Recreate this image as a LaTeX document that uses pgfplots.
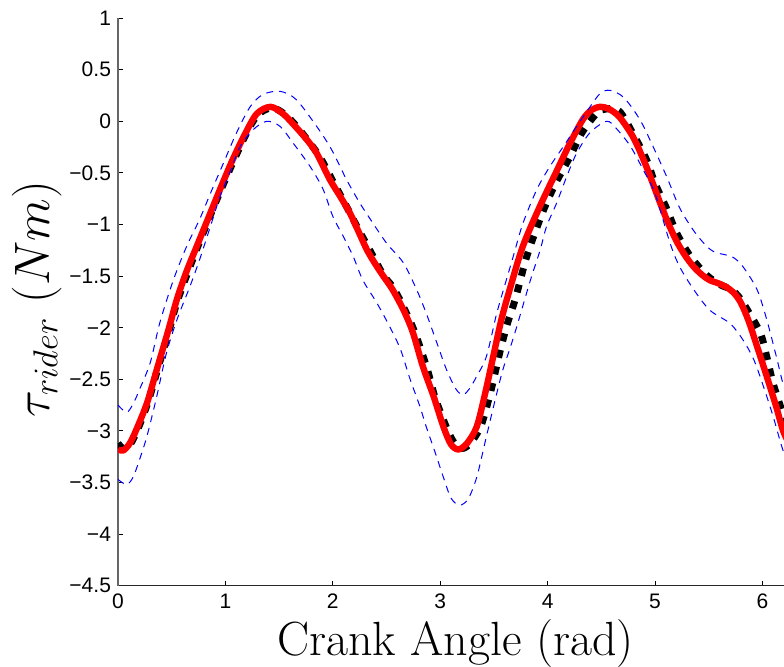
\documentclass[border=0pt]{standalone}
\usepackage{fontspec}
\usepackage{pgfplots}
\pgfplotsset{compat=1.18}
\newfontfamily\tickfont{Liberation Sans}

\begin{document}
\begin{tikzpicture}
% page = the cropped reference frame
\path[use as bounding box] (-59pt,-40.65pt) rectangle (333pt,292.85pt);
\begin{axis}[
    at={(0,0)}, anchor=south west,
    x=53.7pt, y=51.6pt,
    xmin=0, xmax=6.2832, ymin=-4.5, ymax=1,
    axis lines=left,
    axis line style={-},
    x axis line style={black!85, line width=0.6pt},
    y axis line style={black!60, line width=0.6pt},
    tick align=inside,
    major tick length=2.5pt,
    tick style={black, line width=0.5pt},
    xtick={0,1,2,3,4,5,6},
    xticklabels={0,1,2,3,4,5,6},
    ytick={-4.5,-4,-3.5,-3,-2.5,-2,-1.5,-1,-0.5,0,0.5,1},
    yticklabels={−4.5,−4,−3.5,−3,−2.5,−2,−1.5,−1,−0.5,0,0.5,1},
    ticklabel style={font=\tickfont\fontsize{10.5}{12}\selectfont},
    xticklabel style={yshift=-2.8pt, inner sep=1pt},
    xlabel={Crank Angle (rad)},
    ylabel={$\tau_{rider}$ $(Nm)$},
    every axis x label/.style={at={(axis description cs:0.5,0)}, anchor=base,
        yshift=-35pt, inner sep=0pt, font=\fontsize{24}{28}\selectfont},
    every axis y label/.style={at={(axis description cs:-0.1008,0.505)}, anchor=base,
        rotate=90, inner sep=0pt, font=\fontsize{24}{28}\selectfont},
]
% measured mean (black dashed)
\addplot[black, line width=3.5pt, dash pattern=on 4pt off 4.5pt, smooth] coordinates {
(0,-3.12)(0.05,-3.17)(0.12,-3.12)(0.19,-2.97)(0.28,-2.72)(0.37,-2.40)(0.48,-2.01)
(0.56,-1.72)(0.74,-1.22)(0.96,-0.66)(1.18,-0.15)(1.30,0.06)(1.43,0.13)(1.55,0.07)
(1.68,-0.07)(1.87,-0.33)(2.00,-0.58)(2.13,-0.83)(2.24,-1.05)(2.35,-1.26)(2.47,-1.49)
(2.54,-1.58)(2.61,-1.70)(2.73,-1.96)(2.81,-2.18)(2.89,-2.44)(2.95,-2.67)(3.04,-2.92)
(3.12,-3.10)(3.20,-3.17)(3.28,-3.12)(3.38,-2.95)(3.47,-2.62)(3.55,-2.26)(3.62,-1.98)
(3.70,-1.72)(3.80,-1.33)(3.90,-1.03)(3.99,-0.79)(4.09,-0.57)(4.21,-0.34)(4.32,-0.11)
(4.46,0.08)(4.55,0.12)(4.67,0.095)(4.80,-0.13)(4.92,-0.37)(5.00,-0.60)(5.11,-0.85)
(5.20,-1.08)(5.33,-1.31)(5.48,-1.49)(5.60,-1.58)(5.71,-1.63)(5.78,-1.70)(5.85,-1.81)
(5.98,-2.05)(6.04,-2.28)(6.10,-2.54)(6.18,-2.80)(6.283,-3.12)
};
% model (red)
\addplot[red, line width=3.2pt, line join=round, smooth] coordinates {
(0,-3.18)(0.05,-3.19)(0.11,-3.12)(0.17,-2.99)(0.27,-2.73)(0.36,-2.41)(0.47,-2.02)
(0.55,-1.72)(0.64,-1.45)(0.73,-1.22)(0.84,-0.94)(0.95,-0.66)(1.06,-0.39)(1.17,-0.15)
(1.29,0.07)(1.42,0.14)(1.54,0.07)(1.66,-0.06)(1.76,-0.18)(1.85,-0.31)(1.97,-0.56)
(2.07,-0.73)(2.16,-0.89)(2.24,-1.07)(2.32,-1.25)(2.40,-1.39)(2.47,-1.50)(2.55,-1.62)
(2.63,-1.77)(2.69,-1.90)(2.75,-2.06)(2.84,-2.38)(2.94,-2.67)(3.03,-2.96)(3.10,-3.13)
(3.17,-3.18)(3.25,-3.12)(3.34,-2.96)(3.42,-2.63)(3.50,-2.25)(3.57,-1.92)(3.65,-1.62)
(3.77,-1.21)(3.93,-0.82)(4.09,-0.47)(4.21,-0.21)(4.33,0.02)(4.41,0.11)(4.49,0.14)
(4.57,0.12)(4.67,0.04)(4.80,-0.16)(4.92,-0.44)(5.04,-0.77)(5.12,-0.98)(5.20,-1.16)
(5.28,-1.30)(5.36,-1.41)(5.44,-1.49)(5.51,-1.54)(5.59,-1.57)(5.67,-1.61)(5.74,-1.67)
(5.80,-1.76)(5.87,-1.93)(5.95,-2.18)(6.04,-2.47)(6.13,-2.77)(6.20,-3.02)(6.283,-3.18)
};
% upper band (blue dashed)
\addplot[blue, line width=0.5pt, dash pattern=on 3.5pt off 3pt, smooth] coordinates {
(0,-2.75)(0.08,-2.82)(0.14,-2.74)(0.20,-2.60)(0.30,-2.34)(0.39,-1.95)(0.515,-1.54)
(0.64,-1.21)(0.76,-0.95)(0.86,-0.70)(0.98,-0.41)(1.10,-0.12)(1.23,0.14)(1.35,0.26)
(1.51,0.29)(1.66,0.21)(1.85,-0.05)(1.97,-0.24)(2.05,-0.40)(2.13,-0.57)(2.25,-0.79)
(2.35,-0.95)(2.50,-1.18)(2.656,-1.37)(2.78,-1.63)(2.87,-1.86)(2.97,-2.15)(3.06,-2.41)
(3.15,-2.60)(3.215,-2.65)(3.28,-2.58)(3.34,-2.47)(3.43,-2.28)(3.526,-1.86)(3.57,-1.70)
(3.68,-1.31)(3.77,-0.99)(3.90,-0.66)(4.02,-0.44)(4.15,-0.24)(4.27,-0.05)(4.395,0.14)
(4.49,0.27)(4.58,0.30)(4.71,0.23)(4.86,0.015)(4.98,-0.24)(5.11,-0.54)(5.23,-0.84)
(5.36,-1.06)(5.48,-1.21)(5.56,-1.27)(5.64,-1.29)(5.73,-1.32)(5.82,-1.41)(5.95,-1.63)
(6.04,-1.92)(6.13,-2.28)(6.20,-2.57)(6.283,-2.75)
};
% lower band (blue dashed)
\addplot[blue, line width=0.5pt, dash pattern=on 3.5pt off 3pt, smooth] coordinates {
(0,-3.47)(0.08,-3.52)(0.14,-3.45)(0.20,-3.28)(0.27,-3.05)(0.36,-2.67)(0.45,-2.25)
(0.55,-1.92)(0.67,-1.60)(0.76,-1.34)(0.86,-1.02)(0.95,-0.73)(1.04,-0.50)(1.14,-0.24)
(1.26,-0.08)(1.385,0.0)(1.51,-0.05)(1.63,-0.21)(1.79,-0.44)(1.91,-0.66)(2.0,-0.92)
(2.10,-1.12)(2.19,-1.31)(2.28,-1.54)(2.41,-1.76)(2.53,-1.99)(2.63,-2.21)(2.72,-2.50)
(2.81,-2.76)(2.87,-2.96)(2.95,-3.20)(3.03,-3.45)(3.10,-3.65)(3.18,-3.72)(3.26,-3.66)
(3.34,-3.45)(3.42,-3.10)(3.50,-2.75)(3.58,-2.42)(3.65,-2.20)(3.71,-2.0)(3.84,-1.54)
(3.93,-1.25)(3.99,-1.02)(4.085,-0.79)(4.18,-0.53)(4.27,-0.31)(4.395,-0.11)(4.55,0.0)
(4.64,-0.07)(4.77,-0.24)(4.89,-0.47)(5.0,-0.70)(5.14,-1.18)(5.23,-1.41)(5.36,-1.63)
(5.51,-1.83)(5.70,-1.96)(5.82,-2.12)(5.92,-2.31)(6.01,-2.57)(6.10,-2.86)(6.18,-3.15)
(6.283,-3.47)
};
\end{axis}
\end{tikzpicture}
\end{document}
